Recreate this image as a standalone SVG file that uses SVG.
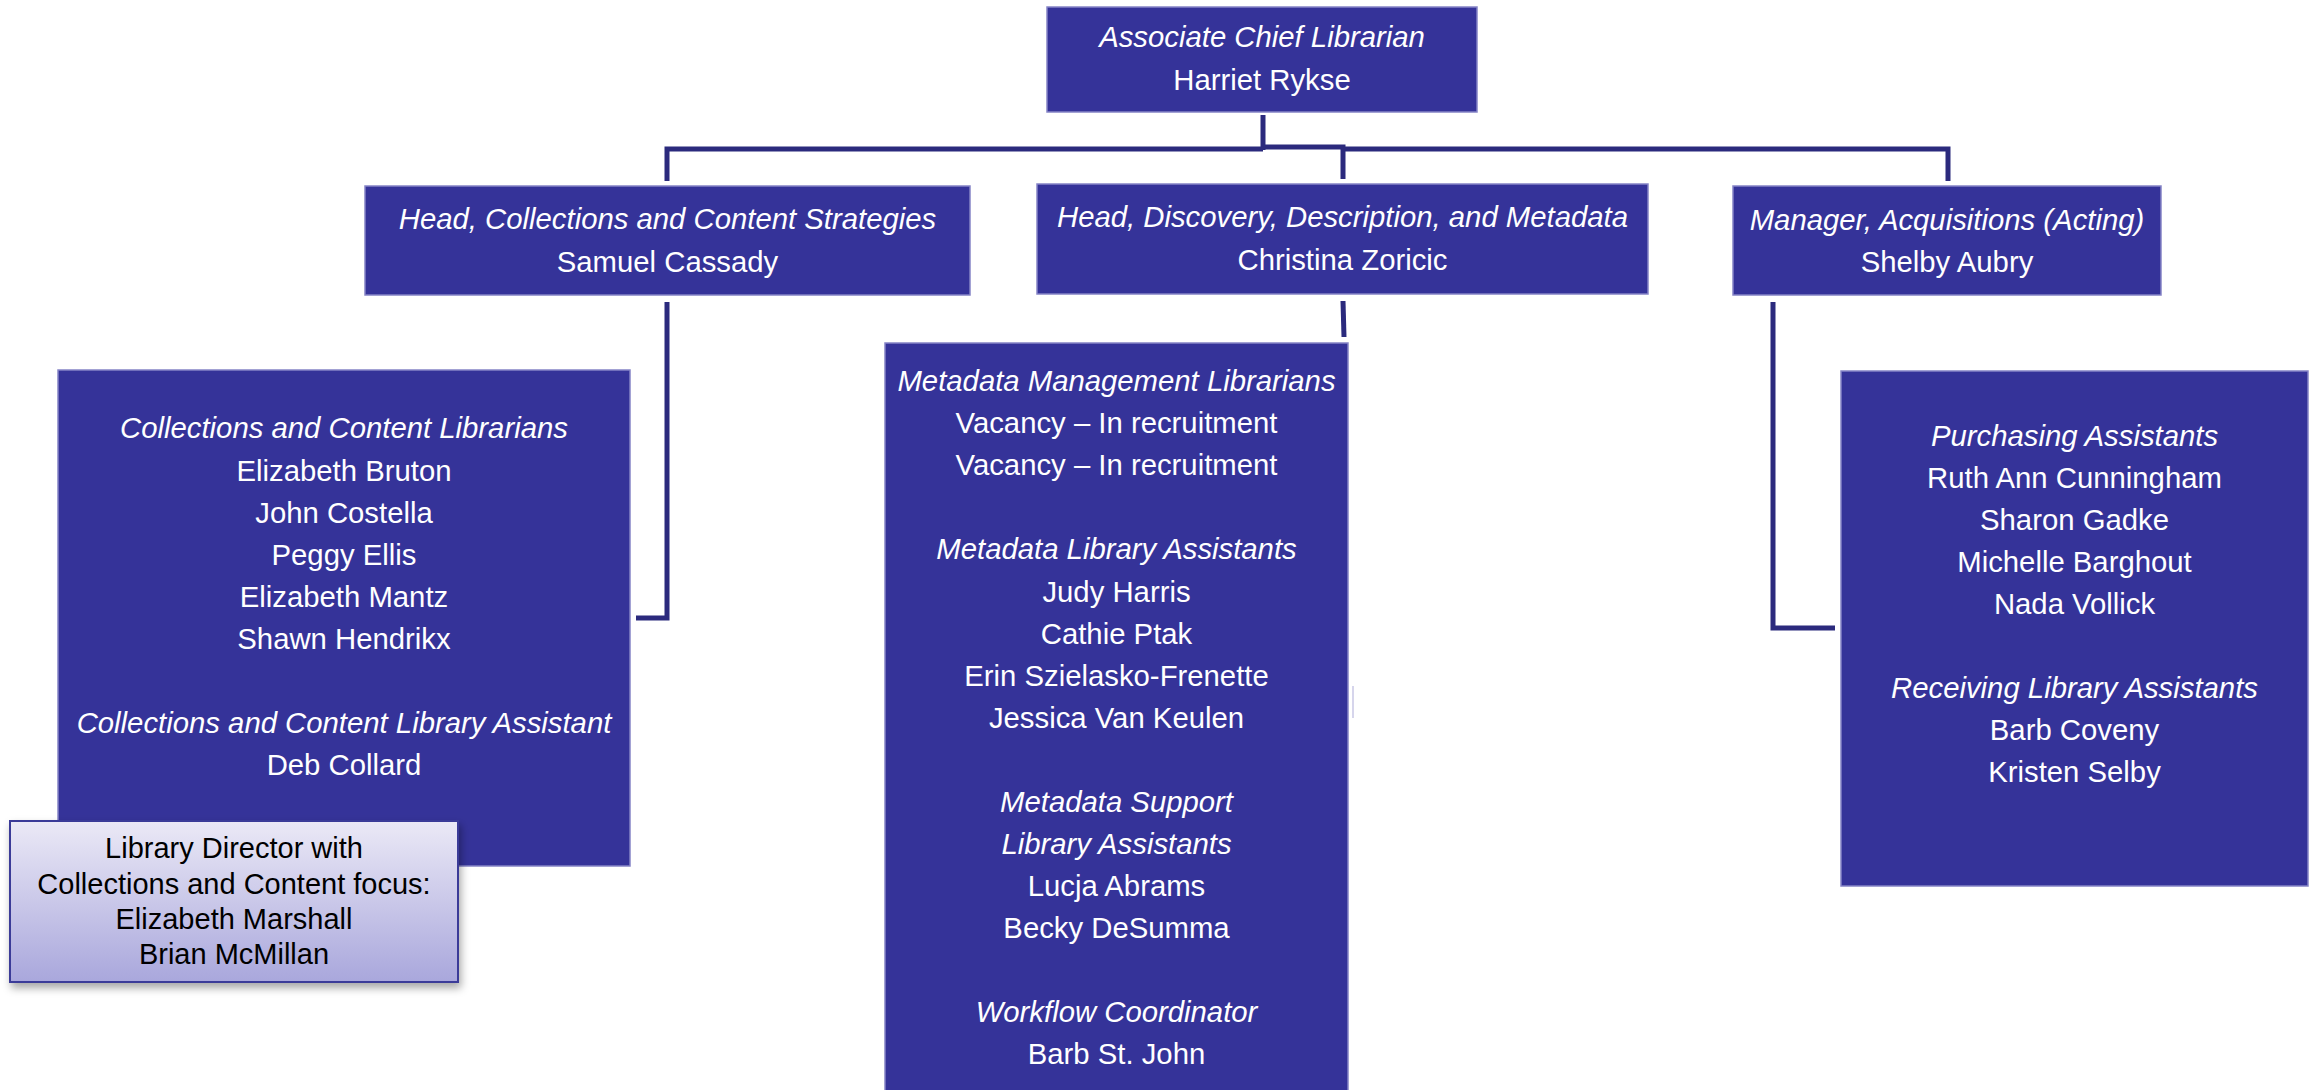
<svg xmlns="http://www.w3.org/2000/svg" width="2316" height="1090" viewBox="0 0 2316 1090">
<defs>
<style>
.box{fill:#353399;stroke:#8584c6;stroke-width:1.5}
.t{font-family:"Liberation Sans",Arial,sans-serif;font-size:29.3px;fill:#ffffff;text-anchor:middle}
.i{font-style:italic}
.dk{font-family:"Liberation Sans",Arial,sans-serif;font-size:29px;fill:#000000;text-anchor:middle}
.conn{fill:none;stroke:#2b2a7d;stroke-width:5;stroke-linejoin:miter}
</style>
<linearGradient id="lav" x1="0" y1="0" x2="0" y2="1">
<stop offset="0" stop-color="#ebe9f6"/>
<stop offset="1" stop-color="#a9a7dc"/>
</linearGradient>
<filter id="sh" x="-10%" y="-10%" width="125%" height="135%">
<feDropShadow dx="2" dy="5" stdDeviation="4" flood-color="#000" flood-opacity="0.35"/>
</filter>
</defs>
<rect width="2316" height="1090" fill="#ffffff"/>

<g id="connectors">
<path class="conn" d="M1263,115 V150"/>
<path class="conn" d="M667,181 V149 H1263"/>
<path class="conn" d="M1263,147 H1343 V179"/>
<path class="conn" d="M1343,149 H1948 V181"/>
<path class="conn" d="M667,302 V618 H636"/>
<path class="conn" d="M1343,301 L1344,337"/>
<path class="conn" d="M1773,302 V628 H1835"/>
<line x1="1353" y1="686" x2="1353" y2="718" stroke="#c9c7e6" stroke-width="1.5"/>
</g>

<g id="associate-chief">
<rect class="box" x="1047" y="7" width="430" height="105"/>
<text class="t i" x="1262" y="47">Associate Chief Librarian</text>
<text class="t" x="1262" y="90">Harriet Rykse</text>
</g>

<g id="head-collections">
<rect class="box" x="365" y="186" width="605" height="109"/>
<text class="t i" x="667.5" y="229">Head, Collections and Content Strategies</text>
<text class="t" x="667.5" y="272">Samuel Cassady</text>
</g>

<g id="head-discovery">
<rect class="box" x="1037" y="184" width="611" height="110"/>
<text class="t i" x="1342.5" y="227">Head, Discovery, Description, and Metadata</text>
<text class="t" x="1342.5" y="270">Christina Zoricic</text>
</g>

<g id="manager-acquisitions">
<rect class="box" x="1733" y="186" width="428" height="109"/>
<text class="t i" x="1947" y="230">Manager, Acquisitions (Acting)</text>
<text class="t" x="1947" y="272">Shelby Aubry</text>
</g>

<g id="collections-staff">
<rect class="box" x="58" y="370" width="572" height="496"/>
<text class="t i" x="344" y="438">Collections and Content Librarians</text>
<text class="t" x="344" y="480.5">Elizabeth Bruton</text>
<text class="t" x="344" y="522.5">John Costella</text>
<text class="t" x="344" y="564.5">Peggy Ellis</text>
<text class="t" x="344" y="606.5">Elizabeth Mantz</text>
<text class="t" x="344" y="648.5">Shawn Hendrikx</text>
<text class="t i" x="344" y="733">Collections and Content Library Assistant</text>
<text class="t" x="344" y="775">Deb Collard</text>
</g>

<g id="library-director">
<rect x="10" y="821" width="448" height="161" fill="url(#lav)" stroke="#3b3a98" stroke-width="2" filter="url(#sh)"/>
<text class="dk" x="234" y="858">Library Director with</text>
<text class="dk" x="234" y="894">Collections and Content focus:</text>
<text class="dk" x="234" y="929">Elizabeth Marshall</text>
<text class="dk" x="234" y="964">Brian McMillan</text>
</g>

<g id="metadata-staff">
<rect class="box" x="885" y="343" width="463" height="760"/>
<text class="t i" x="1116.5" y="390.5">Metadata Management Librarians</text>
<text class="t" x="1116.5" y="432.5">Vacancy – In recruitment</text>
<text class="t" x="1116.5" y="474.5">Vacancy – In recruitment</text>
<text class="t i" x="1116.5" y="559">Metadata Library Assistants</text>
<text class="t" x="1116.5" y="601.5">Judy Harris</text>
<text class="t" x="1116.5" y="643.5">Cathie Ptak</text>
<text class="t" x="1116.5" y="685.5">Erin Szielasko-Frenette</text>
<text class="t" x="1116.5" y="727.5">Jessica Van Keulen</text>
<text class="t i" x="1116.5" y="812">Metadata Support</text>
<text class="t i" x="1116.5" y="854">Library Assistants</text>
<text class="t" x="1116.5" y="896">Lucja Abrams</text>
<text class="t" x="1116.5" y="938">Becky DeSumma</text>
<text class="t i" x="1116.5" y="1022">Workflow Coordinator</text>
<text class="t" x="1116.5" y="1064">Barb St. John</text>
</g>

<g id="acquisitions-staff">
<rect class="box" x="1841" y="371" width="467" height="515"/>
<text class="t i" x="2074.5" y="445.5">Purchasing Assistants</text>
<text class="t" x="2074.5" y="487.5">Ruth Ann Cunningham</text>
<text class="t" x="2074.5" y="529.5">Sharon Gadke</text>
<text class="t" x="2074.5" y="571.5">Michelle Barghout</text>
<text class="t" x="2074.5" y="613.5">Nada Vollick</text>
<text class="t i" x="2074.5" y="698">Receiving Library Assistants</text>
<text class="t" x="2074.5" y="740">Barb Coveny</text>
<text class="t" x="2074.5" y="782">Kristen Selby</text>
</g>
</svg>
